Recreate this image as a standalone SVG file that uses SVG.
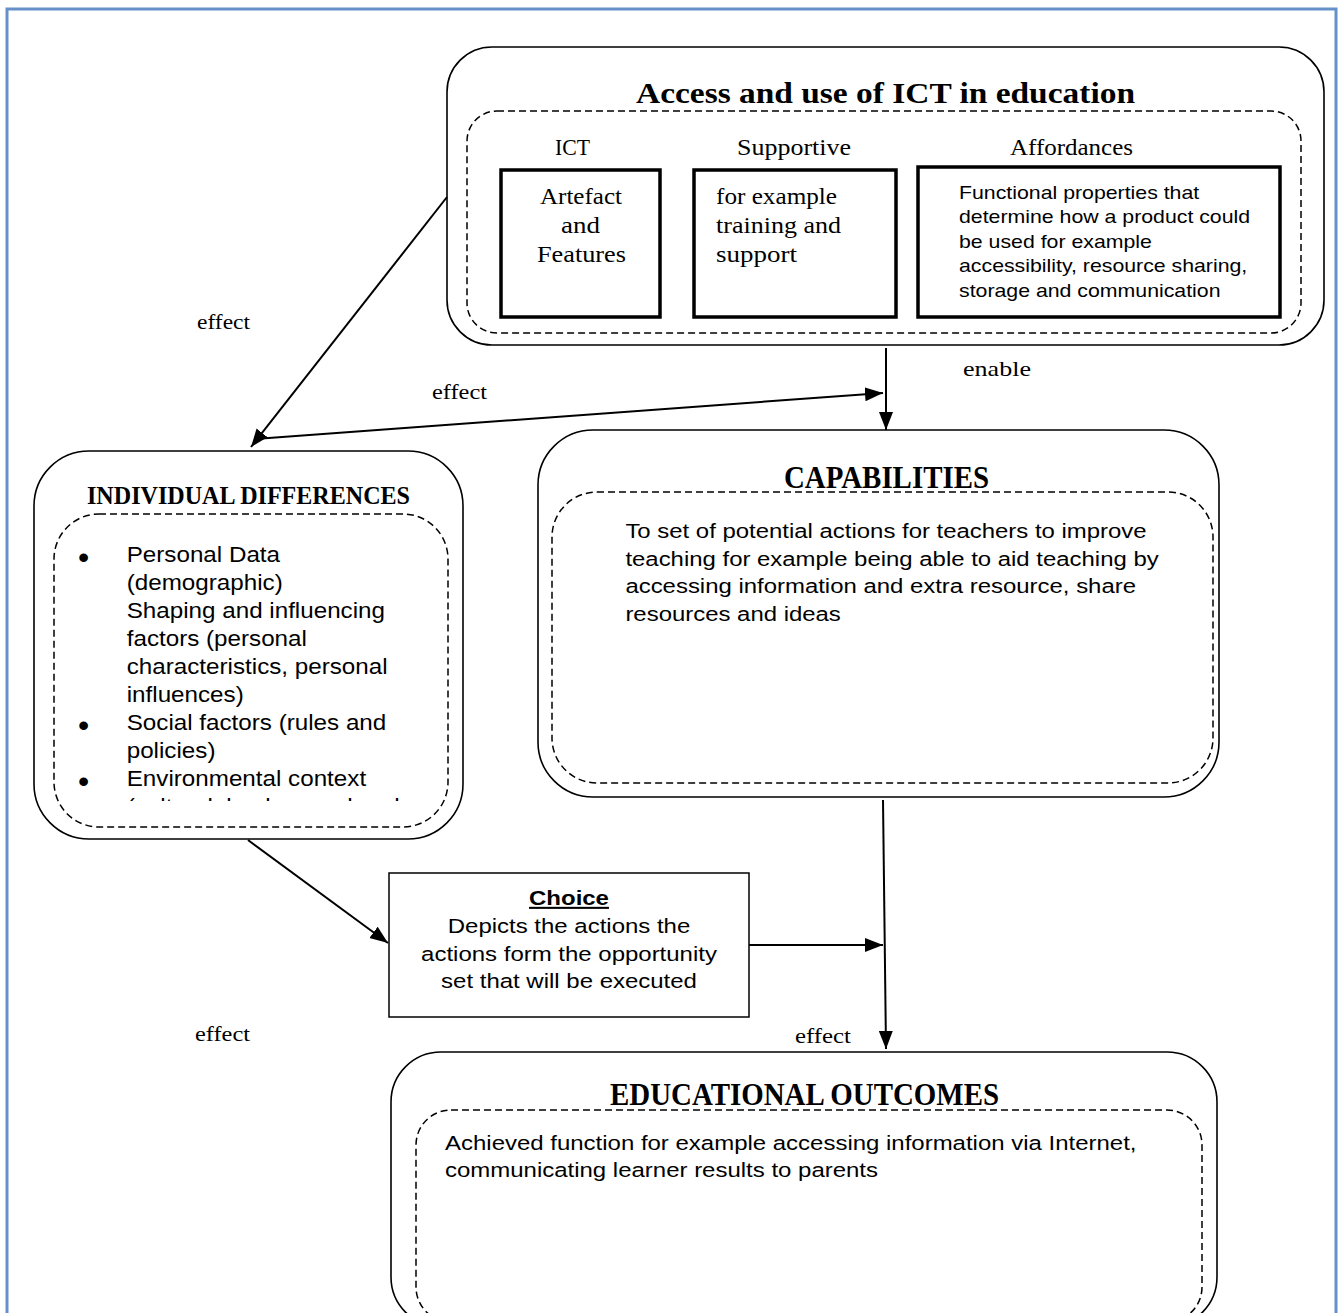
<svg xmlns="http://www.w3.org/2000/svg" width="1339" height="1313" viewBox="0 0 1339 1313">
<style>
.outer{fill:none;stroke:#000;stroke-width:1.6}
.dash{fill:none;stroke:#000;stroke-width:1.5;stroke-dasharray:7 4}
.thick{fill:none;stroke:#000;stroke-width:3.5}
.conn{fill:none;stroke:#000;stroke-width:2}
.serif{font-family:"Liberation Serif",serif;fill:#000}
.title{font-family:"Liberation Serif",serif;font-weight:bold;fill:#000}
.sans{font-family:"Liberation Sans",Arial,sans-serif;fill:#000}
</style>
<defs>
<marker id="arr" markerUnits="userSpaceOnUse" markerWidth="20" markerHeight="16" refX="18" refY="7" orient="auto">
<path d="M0,0 L18,7 L0,14 z" fill="#000"/>
</marker>
<clipPath id="clipInd"><rect x="40" y="520" width="400" height="281"/></clipPath>
</defs>
<rect id="frame" x="7" y="9" width="1329" height="1330" fill="#fff" stroke="#6590c8" stroke-width="3"/>

<g id="connectors">
<line class="conn" x1="447" y1="197" x2="251" y2="447" marker-end="url(#arr)"/>
<line class="conn" x1="255" y1="439" x2="883" y2="393" marker-end="url(#arr)"/>
<line class="conn" x1="886" y1="348" x2="886" y2="430" marker-end="url(#arr)"/>
<line class="conn" x1="248" y1="840" x2="388" y2="943" marker-end="url(#arr)"/>
<line class="conn" x1="749" y1="945" x2="883" y2="945" marker-end="url(#arr)"/>
<line class="conn" x1="883" y1="800" x2="886" y2="1049" marker-end="url(#arr)"/>
<text class="serif" x="197" y="329" font-size="22" textLength="53" lengthAdjust="spacingAndGlyphs">effect</text>
<text class="serif" x="432" y="399" font-size="22" textLength="55" lengthAdjust="spacingAndGlyphs">effect</text>
<text class="serif" x="963" y="376" font-size="22" textLength="68" lengthAdjust="spacingAndGlyphs">enable</text>
<text class="serif" x="195" y="1041" font-size="22" textLength="55" lengthAdjust="spacingAndGlyphs">effect</text>
<text class="serif" x="795" y="1043" font-size="22" textLength="56" lengthAdjust="spacingAndGlyphs">effect</text>
</g>

<g id="node-access">
<rect class="outer" x="447" y="47" width="877" height="298" rx="45"/>
<rect class="dash" x="467" y="111" width="834" height="222" rx="30"/>
<text class="title" x="636" y="103" font-size="30" textLength="499" lengthAdjust="spacingAndGlyphs">Access and use of ICT in education</text>
<text class="serif" x="555" y="155" font-size="23" textLength="35" lengthAdjust="spacingAndGlyphs">ICT</text>
<text class="serif" x="737" y="155" font-size="23" textLength="114" lengthAdjust="spacingAndGlyphs">Supportive</text>
<text class="serif" x="1010" y="155" font-size="23" textLength="123" lengthAdjust="spacingAndGlyphs">Affordances</text>
<rect class="thick" x="501" y="170" width="159" height="147"/>
<rect class="thick" x="694" y="170" width="202" height="147"/>
<rect class="thick" x="918" y="167" width="362" height="150"/>
<text class="serif" x="540" y="204" font-size="24" textLength="82" lengthAdjust="spacingAndGlyphs">Artefact</text>
<text class="serif" x="561" y="233" font-size="24" textLength="39" lengthAdjust="spacingAndGlyphs">and</text>
<text class="serif" x="537" y="262" font-size="24" textLength="89" lengthAdjust="spacingAndGlyphs">Features</text>
<text class="serif" x="716" y="204" font-size="24" textLength="121" lengthAdjust="spacingAndGlyphs">for example</text>
<text class="serif" x="716" y="233" font-size="24" textLength="125" lengthAdjust="spacingAndGlyphs">training and</text>
<text class="serif" x="716" y="262" font-size="24" textLength="81" lengthAdjust="spacingAndGlyphs">support</text>
<g transform="translate(959 0) scale(1.145 1)">
<text class="sans" x="0" y="199" font-size="18.6">Functional properties that</text>
<text class="sans" x="0" y="223.5" font-size="18.6">determine how a product could</text>
<text class="sans" x="0" y="248" font-size="18.6">be used for example</text>
<text class="sans" x="0" y="272.3" font-size="18.6">accessibility, resource sharing,</text>
<text class="sans" x="0" y="296.7" font-size="18.6">storage and communication</text>
</g>
</g>

<g id="node-individual">
<rect class="outer" x="34" y="451" width="429" height="388" rx="55"/>
<rect class="dash" x="54" y="514" width="394" height="313" rx="45"/>
<text class="title" x="87" y="504" font-size="26" textLength="323" lengthAdjust="spacingAndGlyphs">INDIVIDUAL DIFFERENCES</text>
<g class="sans" font-size="32">
<text x="78" y="568">•</text>
<text x="78" y="736">•</text>
<text x="78" y="792">•</text>
</g>
<g clip-path="url(#clipInd)">
<g transform="translate(126.7 0) scale(1.09 1)">
<text class="sans" x="0" y="562" font-size="22.2">Personal Data</text>
<text class="sans" x="0" y="590" font-size="22.2">(demographic)</text>
<text class="sans" x="0" y="618" font-size="22.2">Shaping and influencing</text>
<text class="sans" x="0" y="646" font-size="22.2">factors (personal</text>
<text class="sans" x="0" y="674" font-size="22.2">characteristics, personal</text>
<text class="sans" x="0" y="702" font-size="22.2">influences)</text>
<text class="sans" x="0" y="730" font-size="22.2">Social factors (rules and</text>
<text class="sans" x="0" y="758" font-size="22.2">policies)</text>
<text class="sans" x="0" y="786" font-size="22.2">Environmental context</text>
<text class="sans" x="0" y="814" font-size="22.2">(cultural, background and</text>
</g>
</g>
</g>

<g id="node-capabilities">
<rect class="outer" x="538" y="430" width="681" height="367" rx="55"/>
<rect class="dash" x="552" y="492" width="661" height="291" rx="45"/>
<text class="title" x="784" y="488" font-size="31" textLength="205" lengthAdjust="spacingAndGlyphs">CAPABILITIES</text>
<g transform="translate(625.4 0) scale(1.14 1)">
<text class="sans" x="0" y="538" font-size="21">To set of potential actions for teachers to improve</text>
<text class="sans" x="0" y="566" font-size="21">teaching for example being able to aid teaching by</text>
<text class="sans" x="0" y="593.5" font-size="21">accessing information and extra resource, share</text>
<text class="sans" x="0" y="621" font-size="21">resources and ideas</text>
</g>
</g>

<g id="node-choice">
<rect x="389" y="873" width="360" height="144" fill="#fff" stroke="#000" stroke-width="1.5"/>
<g transform="translate(569 0) scale(1.17 1)" text-anchor="middle">
<text class="sans" x="0" y="905" font-size="20.5" font-weight="bold" text-decoration="underline">Choice</text>
<text class="sans" x="0" y="933" font-size="20.5">Depicts the actions the</text>
<text class="sans" x="0" y="961" font-size="20.5">actions form the opportunity</text>
<text class="sans" x="0" y="988" font-size="20.5">set that will be executed</text>
</g>
</g>

<g id="node-outcomes">
<rect class="outer" x="391" y="1052" width="826" height="275" rx="50"/>
<rect class="dash" x="416" y="1110" width="786" height="212" rx="35"/>
<text class="title" x="610" y="1105" font-size="31" textLength="389" lengthAdjust="spacingAndGlyphs">EDUCATIONAL OUTCOMES</text>
<g transform="translate(445 0) scale(1.17 1)">
<text class="sans" x="0" y="1150" font-size="20.5">Achieved function for example accessing information via Internet,</text>
<text class="sans" x="0" y="1177" font-size="20.5">communicating learner results to parents</text>
</g>
</g>
</svg>
